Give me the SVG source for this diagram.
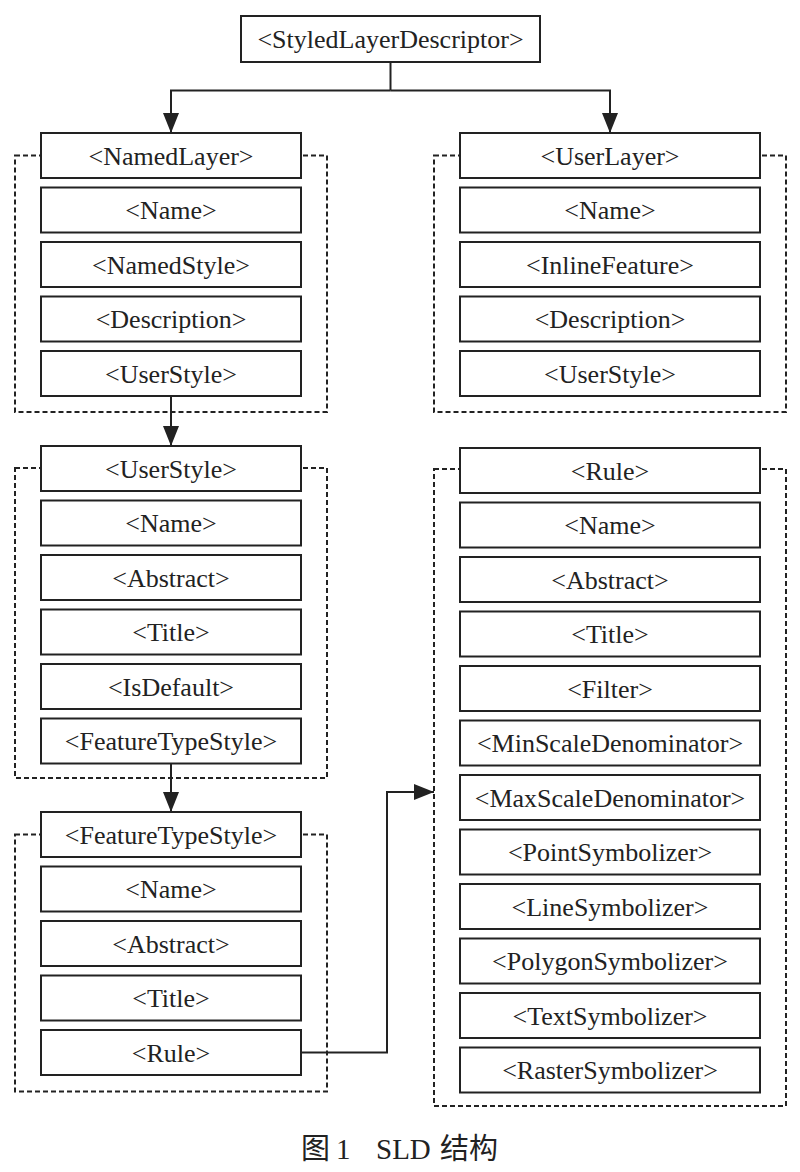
<svg xmlns="http://www.w3.org/2000/svg" width="800" height="1172" viewBox="0 0 800 1172">
<style>
.box{fill:#fff;stroke:#222;stroke-width:2}
.cont{fill:none;stroke:#222;stroke-width:2;stroke-dasharray:5,3}
.lbl{font-family:'Liberation Serif',serif;font-size:26px;fill:#222;text-anchor:middle}
.con{fill:none;stroke:#222;stroke-width:2}
.cap{font-family:'Liberation Serif','Noto Sans CJK SC',serif;font-size:29px;fill:#222}
</style>
<defs>
<marker id="arr" markerUnits="userSpaceOnUse" markerWidth="20" markerHeight="16" refX="20" refY="8" orient="auto">
<path d="M0,0 L20,8 L0,16 Z" fill="#222"/>
</marker>
</defs>
<rect width="800" height="1172" fill="#fff"/>
<g id="containers">
<rect class="cont" x="15" y="155.5" width="312" height="256.5"/>
<rect class="cont" x="15" y="468" width="312" height="310"/>
<rect class="cont" x="15" y="834.5" width="312" height="257"/>
<rect class="cont" x="434" y="155.5" width="352" height="256.5"/>
<rect class="cont" x="434" y="469" width="352" height="637"/>
</g>
<g id="connectors">
<path class="con" d="M390.5,62 V90.5"/>
<path class="con" d="M390.5,90.5 H171 V133" marker-end="url(#arr)"/>
<path class="con" d="M390.5,90.5 H610 V133" marker-end="url(#arr)"/>
<path class="con" d="M171,396 V446" marker-end="url(#arr)"/>
<path class="con" d="M171,763.5 V812" marker-end="url(#arr)"/>
<path class="con" d="M301,1052.5 H387 V792 H434" marker-end="url(#arr)"/>
</g>
<g id="n-sld"><rect class="box" x="241" y="16" width="299" height="46"/><text class="lbl" x="390.5" y="47.5">&lt;StyledLayerDescriptor&gt;</text></g>
<g id="n-namedlayer"><rect class="box" x="41" y="133" width="260" height="45"/><text class="lbl" x="171" y="164.5">&lt;NamedLayer&gt;</text></g>
<g id="n-nl-name"><rect class="box" x="41" y="187.5" width="260" height="45"/><text class="lbl" x="171" y="219">&lt;Name&gt;</text></g>
<g id="n-nl-namedstyle"><rect class="box" x="41" y="242" width="260" height="45"/><text class="lbl" x="171" y="273.5">&lt;NamedStyle&gt;</text></g>
<g id="n-nl-desc"><rect class="box" x="41" y="296.5" width="260" height="45"/><text class="lbl" x="171" y="328">&lt;Description&gt;</text></g>
<g id="n-nl-userstyle"><rect class="box" x="41" y="351" width="260" height="45"/><text class="lbl" x="171" y="382.5">&lt;UserStyle&gt;</text></g>
<g id="n-userstyle"><rect class="box" x="41" y="446" width="260" height="45"/><text class="lbl" x="171" y="477.5">&lt;UserStyle&gt;</text></g>
<g id="n-us-name"><rect class="box" x="41" y="500.5" width="260" height="45"/><text class="lbl" x="171" y="532">&lt;Name&gt;</text></g>
<g id="n-us-abstract"><rect class="box" x="41" y="555" width="260" height="45"/><text class="lbl" x="171" y="586.5">&lt;Abstract&gt;</text></g>
<g id="n-us-title"><rect class="box" x="41" y="609.5" width="260" height="45"/><text class="lbl" x="171" y="641">&lt;Title&gt;</text></g>
<g id="n-us-isdefault"><rect class="box" x="41" y="664" width="260" height="45"/><text class="lbl" x="171" y="695.5">&lt;IsDefault&gt;</text></g>
<g id="n-us-fts"><rect class="box" x="41" y="718.5" width="260" height="45"/><text class="lbl" x="171" y="750">&lt;FeatureTypeStyle&gt;</text></g>
<g id="n-fts"><rect class="box" x="41" y="812" width="260" height="45"/><text class="lbl" x="171" y="843.5">&lt;FeatureTypeStyle&gt;</text></g>
<g id="n-fts-name"><rect class="box" x="41" y="866.5" width="260" height="45"/><text class="lbl" x="171" y="898">&lt;Name&gt;</text></g>
<g id="n-fts-abstract"><rect class="box" x="41" y="921" width="260" height="45"/><text class="lbl" x="171" y="952.5">&lt;Abstract&gt;</text></g>
<g id="n-fts-title"><rect class="box" x="41" y="975.5" width="260" height="45"/><text class="lbl" x="171" y="1007">&lt;Title&gt;</text></g>
<g id="n-fts-rule"><rect class="box" x="41" y="1030" width="260" height="45"/><text class="lbl" x="171" y="1061.5">&lt;Rule&gt;</text></g>
<g id="n-userlayer"><rect class="box" x="460" y="133" width="300" height="45"/><text class="lbl" x="610" y="164.5">&lt;UserLayer&gt;</text></g>
<g id="n-ul-name"><rect class="box" x="460" y="187.5" width="300" height="45"/><text class="lbl" x="610" y="219">&lt;Name&gt;</text></g>
<g id="n-ul-inline"><rect class="box" x="460" y="242" width="300" height="45"/><text class="lbl" x="610" y="273.5">&lt;InlineFeature&gt;</text></g>
<g id="n-ul-desc"><rect class="box" x="460" y="296.5" width="300" height="45"/><text class="lbl" x="610" y="328">&lt;Description&gt;</text></g>
<g id="n-ul-userstyle"><rect class="box" x="460" y="351" width="300" height="45"/><text class="lbl" x="610" y="382.5">&lt;UserStyle&gt;</text></g>
<g id="n-rule"><rect class="box" x="460" y="448" width="300" height="45"/><text class="lbl" x="610" y="479.5">&lt;Rule&gt;</text></g>
<g id="n-r-name"><rect class="box" x="460" y="502.5" width="300" height="45"/><text class="lbl" x="610" y="534">&lt;Name&gt;</text></g>
<g id="n-r-abstract"><rect class="box" x="460" y="557" width="300" height="45"/><text class="lbl" x="610" y="588.5">&lt;Abstract&gt;</text></g>
<g id="n-r-title"><rect class="box" x="460" y="611.5" width="300" height="45"/><text class="lbl" x="610" y="643">&lt;Title&gt;</text></g>
<g id="n-r-filter"><rect class="box" x="460" y="666" width="300" height="45"/><text class="lbl" x="610" y="697.5">&lt;Filter&gt;</text></g>
<g id="n-r-minscale"><rect class="box" x="460" y="720.5" width="300" height="45"/><text class="lbl" x="610" y="752">&lt;MinScaleDenominator&gt;</text></g>
<g id="n-r-maxscale"><rect class="box" x="460" y="775" width="300" height="45"/><text class="lbl" x="610" y="806.5">&lt;MaxScaleDenominator&gt;</text></g>
<g id="n-r-point"><rect class="box" x="460" y="829.5" width="300" height="45"/><text class="lbl" x="610" y="861">&lt;PointSymbolizer&gt;</text></g>
<g id="n-r-line"><rect class="box" x="460" y="884" width="300" height="45"/><text class="lbl" x="610" y="915.5">&lt;LineSymbolizer&gt;</text></g>
<g id="n-r-polygon"><rect class="box" x="460" y="938.5" width="300" height="45"/><text class="lbl" x="610" y="970">&lt;PolygonSymbolizer&gt;</text></g>
<g id="n-r-text"><rect class="box" x="460" y="993" width="300" height="45"/><text class="lbl" x="610" y="1024.5">&lt;TextSymbolizer&gt;</text></g>
<g id="n-r-raster"><rect class="box" x="460" y="1047.5" width="300" height="45"/><text class="lbl" x="610" y="1079">&lt;RasterSymbolizer&gt;</text></g>
<g id="caption">
<text class="cap" y="1159"><tspan x="301">图</tspan><tspan x="336">1</tspan><tspan x="376">SLD</tspan><tspan x="440" font-family="Noto Sans CJK SC, sans-serif">结构</tspan></text>
</g>
</svg>
